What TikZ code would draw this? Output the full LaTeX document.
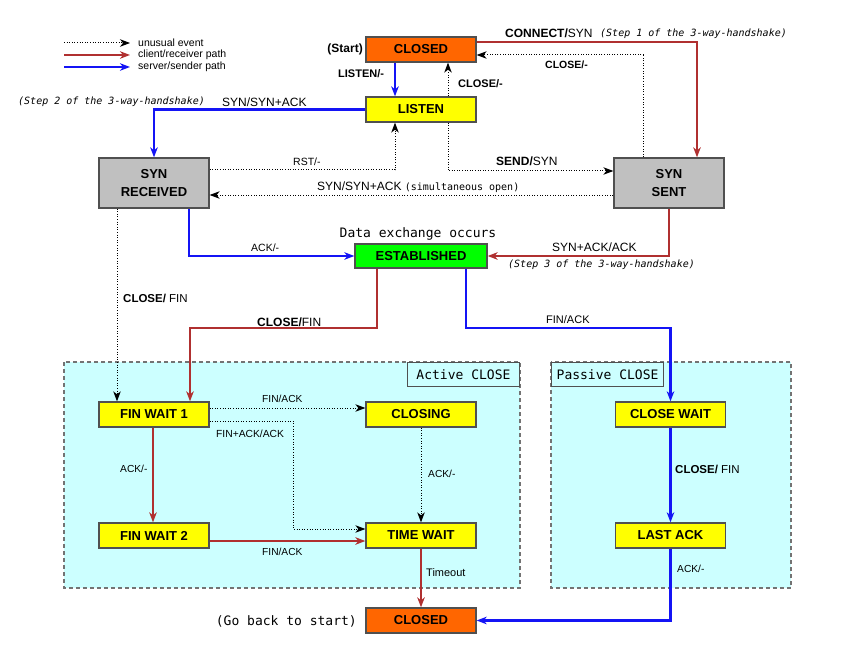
\documentclass[tikz,border=0pt]{standalone}
\usepackage{fontspec}
\setmainfont{Liberation Sans}
\setsansfont{Liberation Sans}
\setmonofont{DejaVu Sans Mono}[ItalicFont={DejaVu Sans Mono Oblique}]
\usetikzlibrary{arrows.meta}
\definecolor{stred}{RGB}{176,48,48}
\definecolor{stblue}{RGB}{20,20,245}
\definecolor{storange}{RGB}{255,102,0}
\definecolor{styellow}{RGB}{255,255,0}
\definecolor{stgray}{RGB}{192,192,192}
\definecolor{stgreen}{RGB}{0,255,0}
\definecolor{stcyan}{RGB}{204,255,255}
\definecolor{stborder}{RGB}{80,80,80}
\newcommand{\stfs}[1]{\fontsize{#1}{#1}\selectfont}
\tikzset{
 stbox/.style={draw=stborder, line width=1.3pt, minimum width=110pt, minimum height=25pt, inner sep=0pt,
   font=\sffamily\bfseries\fontsize{13}{17.5}\selectfont, align=center},
 sttip/.style={-{Stealth[length=10pt,width=7.5pt,inset=3pt]}},
 redp/.style={sttip, draw=stred, line width=2pt},
 bluep/.style={sttip, draw=stblue, line width=2.2pt},
 dotp/.style={sttip, draw=black, line width=1pt, dash pattern=on 1pt off 1.6pt},
 lb/.style={inner sep=0pt, anchor=west, font=\sffamily\stfs{10.5}},
 lbb/.style={inner sep=0pt, anchor=west, font=\sffamily\stfs{12}},
 mono/.style={inner sep=0pt, anchor=west, font=\ttfamily\stfs{13}},
 stepnote/.style={inner sep=0pt, anchor=west, font=\ttfamily\itshape\stfs{10}},
 region/.style={draw=stborder!80, fill=stcyan, line width=1.2pt, dash pattern=on 4pt off 3pt},
 regionlabel/.style={draw=stborder, fill=stcyan, line width=1.1pt, minimum width=112pt, minimum height=23.5pt, inner sep=0pt, font=\ttfamily\stfs{13}}
}
\begin{document}
\begin{tikzpicture}[x=1pt,y=-1pt]
\useasboundingbox (0,0) rectangle (849,658);
% regions
\draw[region] (64,362) rectangle (520,588);
\draw[region] (551,362) rectangle (791,588);
\node[regionlabel, anchor=north east] (actlbl) at (520,362) {Active CLOSE};
\node[regionlabel, anchor=north west] (paslbl) at (551,362) {Passive CLOSE};

% legend
\coordinate (lga1) at (64,43); \coordinate (lga2) at (130,43);
\coordinate (lgb1) at (64,55); \coordinate (lgb2) at (130,55);
\coordinate (lgc1) at (64,67); \coordinate (lgc2) at (130,67);
\draw[dotp] (lga1) -- (lga2);
\draw[redp] (lgb1) -- (lgb2);
\draw[bluep] (lgc1) -- (lgc2);
\node[lb] (lgt1) at (138,43) {unusual event};
\node[lb] (lgt2) at (138,55) {client/receiver path};
\node[lb] (lgt3) at (138,67) {server/sender path};

% states
\node[stbox, fill=storange] (closed) at (421,49.5) {CLOSED};
\node[stbox, fill=styellow] (listen) at (421,109.5) {LISTEN};
\node[stbox, fill=stgray, minimum height=50pt] (synrcvd) at (154,183) {SYN\\RECEIVED};
\node[stbox, fill=stgray, minimum height=50pt] (synsent) at (669,183) {SYN\\SENT};
\node[stbox, fill=stgreen, minimum width=132pt, minimum height=24pt] (established) at (421,256) {ESTABLISHED};
\node[stbox, fill=styellow] (finwait1) at (154,414.5) {FIN WAIT 1};
\node[stbox, fill=styellow] (closing) at (421,414.5) {CLOSING};
\node[stbox, fill=styellow] (finwait2) at (154,535.5) {FIN WAIT 2};
\node[stbox, fill=styellow] (timewait) at (421,535.5) {TIME WAIT};
\node[stbox, fill=styellow] (closewait) at (670.5,414.5) {CLOSE WAIT};
\node[stbox, fill=styellow] (lastack) at (670.5,535.5) {LAST ACK};
\node[stbox, fill=storange] (closed2) at (421,620.5) {CLOSED};

% connectors
\draw[redp] (closed.east |- 0,42) -| (synsent.north -| 697,0);
\draw[dotp] (synsent.north -| 643,0) |- (closed.east |- 0,55);
\draw[bluep] (closed.south -| 395,0) -- (listen.north -| 395,0);
\draw[dotp] (listen.north -| 448,0) -- (closed.south -| 448,0);
\draw[bluep] (listen.west) -| (synrcvd.north);
\draw[dotp] (synrcvd.east |- 0,170) -| (listen.south -| 395,0);
\draw[dotp] (listen.south -| 448,0) |- (synsent.west |- 0,171);
\draw[dotp] (synsent.west |- 0,195) -- (synrcvd.east |- 0,195);
\draw[bluep] (synrcvd.south -| 189,0) |- (established.west);
\draw[redp] (synsent.south) |- (established.east);
\draw[redp] (established.south -| 377,0) |- (190,328) -- (finwait1.north -| 190,0);
\draw[dotp] (synrcvd.south -| 117,0) -- (finwait1.north -| 117,0);
\draw[bluep] (established.south -| 466,0) |- (670.5,328) -- (closewait.north);
\draw[dotp] (finwait1.east |- 0,408) -- (closing.west |- 0,408);
\draw[dotp] (finwait1.east |- 0,421) -| (293,529) -- (timewait.west |- 0,529);
\draw[redp] (finwait1.south -| 153,0) -- (finwait2.north -| 153,0);
\draw[dotp] (closing.south) -- (timewait.north);
\draw[redp] (finwait2.east |- 0,541) -- (timewait.west |- 0,541);
\draw[redp] (timewait.south) -- (closed2.north);
\draw[bluep] (closewait.south) -- (lastack.north);
\draw[bluep] (lastack.south) |- (closed2.east);

% labels
\node[lbb, font=\sffamily\bfseries\stfs{12}, anchor=east] (tstart) at (363,49) {(Start)};
\node[lbb] (tconnect) at (505,33) {\textbf{CONNECT/}SYN};
\node[stepnote] (tstep1) at (600,33.5) {(Step 1 of the 3-way-handshake)};
\node[lb, font=\sffamily\bfseries\stfs{10.5}] (tclose1) at (545,65) {CLOSE/-};
\node[lb, font=\sffamily\bfseries\stfs{11}] (tlisten) at (338,74) {LISTEN/-};
\node[lb, font=\sffamily\bfseries\stfs{11}] (tclose2) at (458,84) {CLOSE/-};
\node[stepnote] (tstep2) at (18,102) {(Step 2 of the 3-way-handshake)};
\node[lbb] (tsynsynack) at (222,102) {SYN/SYN+ACK};
\node[lb] (trst) at (293,162) {RST/-};
\node[lbb] (tsend) at (496,161.5) {\textbf{SEND/}SYN};
\node[lbb] (tsimul) at (317,187) {SYN/SYN+ACK {\ttfamily\stfs{10}(simultaneous open)}};
\node[mono, anchor=center] (tdata) at (418,234) {Data exchange occurs};
\node[lb] (tack1) at (251,247.5) {ACK/-};
\node[lbb] (tsynack) at (552,247.5) {SYN+ACK/ACK};
\node[stepnote] (tstep3) at (508,265) {(Step 3 of the 3-way-handshake)};
\node[lb, font=\sffamily\stfs{11.5}] (tclosefin1) at (123,298) {\textbf{CLOSE/} FIN};
\node[lbb] (tclosefin2) at (257,322) {\textbf{CLOSE/}FIN};
\node[lb, font=\sffamily\stfs{11}] (tfinack1) at (546,320) {FIN/ACK};
\node[lb, font=\sffamily\stfs{10.2}] (tfinack2) at (262,399) {FIN/ACK};
\node[lb, font=\sffamily\stfs{10.3}] (tfinackack) at (216,433.5) {FIN+ACK/ACK};
\node[lb, font=\sffamily\stfs{10.2}] (tack2) at (120,469) {ACK/-};
\node[lb, font=\sffamily\stfs{10.2}] (tack3) at (428,474) {ACK/-};
\node[lb, font=\sffamily\stfs{10.2}] (tfinack3) at (262,552) {FIN/ACK};
\node[lb, font=\sffamily\stfs{11}] (ttimeout) at (426,573) {Timeout};
\node[lb, font=\sffamily\stfs{11.5}] (tclosefin3) at (675,469) {\textbf{CLOSE/} FIN};
\node[lb, font=\sffamily\stfs{10.2}] (tack4) at (677,569) {ACK/-};
\node[mono, anchor=east] (tback) at (357,621.5) {(Go back to start)};
\end{tikzpicture}
\end{document}
